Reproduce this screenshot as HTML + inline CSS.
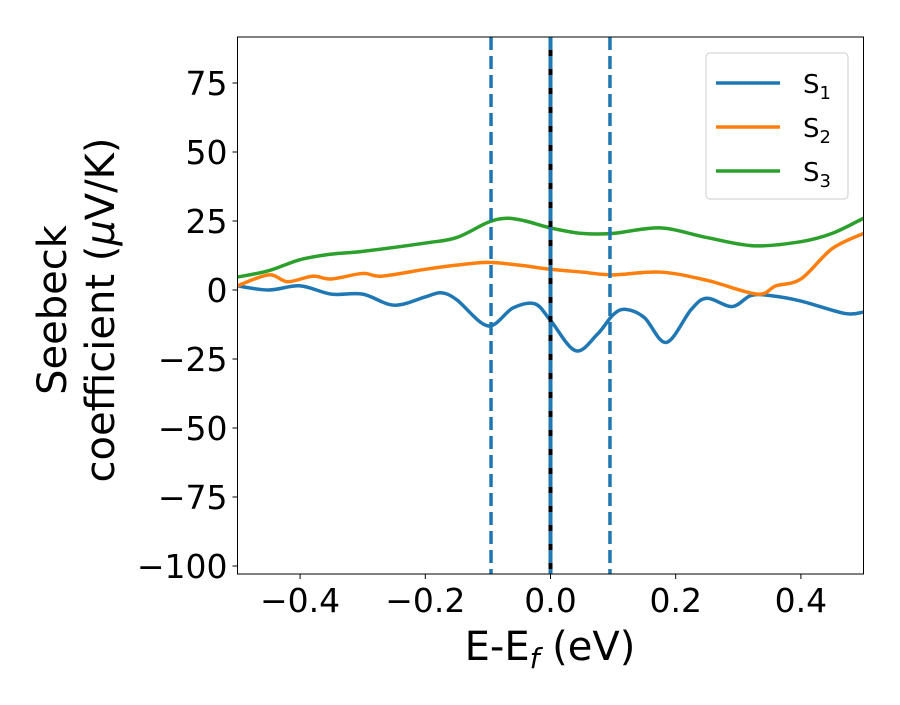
<!DOCTYPE html>
<html><head><meta charset="utf-8"><style>
body{margin:0;background:#fff}
svg text{font-family:"DejaVu Sans","Liberation Sans",sans-serif;fill:#000}
</style></head><body>
<svg id="chart" width="900" height="700"></svg>
<script>
const blueX=[-0.5,-0.45,-0.4,-0.35,-0.3,-0.25,-0.2,-0.175,-0.15,-0.1,-0.06,-0.025,0,0.04,0.075,0.1,0.12,0.15,0.185,0.225,0.25,0.29,0.32,0.35,0.4,0.47,0.5];
const blueY=[1.5,0,1.5,-1.5,-1.5,-5.5,-2.5,-1,-3.5,-13,-6.5,-5,-11,-22,-16,-9,-7,-10,-19,-7,-3,-6,-2,-2,-4,-8.5,-8];
const orangeX=[-0.5,-0.45,-0.42,-0.38,-0.35,-0.3,-0.27,-0.2,-0.15,-0.1,-0.05,0,0.05,0.1,0.175,0.25,0.33,0.36,0.4,0.45,0.5];
const orangeY=[1.5,5.5,3,5,4,6,5,7.5,9,10,9,7.5,6.5,5.5,6.5,3.5,-1.5,1.5,4,15,20.5];
const greenX=[-0.5,-0.45,-0.4,-0.35,-0.3,-0.2,-0.15,-0.1,-0.07,-0.04,0,0.05,0.1,0.175,0.25,0.325,0.4,0.45,0.5];
const greenY=[4.7,7,11,13,14,17,19,24.5,26,25,22.5,20.5,20.5,22.5,19,16,17.5,20.5,26];
const xTicks=[-0.4,-0.2,0.0,0.2,0.4];
const xTickLabels=["\u22120.4","\u22120.2","0.0","0.2","0.4"];
const yTicks=[75,50,25,0,-25,-50,-75,-100];
const yTickLabels=["75","50","25","0","\u221225","\u221250","\u221275","\u2212100"];
const vLinesDashed=[-0.095,0.095];
const vLineCenter=[0];

const L=237.5,R=863.5,T=37,B=574;
const sx=v=>L+(v+0.5)*(R-L);
const sy=v=>290-v*2.76;
const svg=document.getElementById('chart');
const NS='http://www.w3.org/2000/svg';
function mk(tag,attrs,parent){const e=document.createElementNS(NS,tag);for(const k in attrs)e.setAttribute(k,attrs[k]);(parent||svg).appendChild(e);return e;}
function path(xs,ys){const p=xs.map((x,i)=>[sx(x),sy(ys[i])]);let d='M'+p[0][0]+','+p[0][1];
for(let i=0;i<p.length-1;i++){const p0=p[Math.max(0,i-1)],p1=p[i],p2=p[i+1],p3=p[Math.min(p.length-1,i+2)];
d+=' C'+(p1[0]+(p2[0]-p0[0])/6)+','+(p1[1]+(p2[1]-p0[1])/6)+' '+(p2[0]-(p3[0]-p1[0])/6)+','+(p2[1]-(p3[1]-p1[1])/6)+' '+p2[0]+','+p2[1];}return d;}
const defs=mk('defs',{});const cp=mk('clipPath',{id:'c'},defs);mk('rect',{x:L,y:T,width:R-L,height:B-T},cp);
const g=mk('g',{'clip-path':'url(#c)'});
const series=[[blueX,blueY,'#1f77b4','s1-line'],[orangeX,orangeY,'#ff7f0e','s2-line'],[greenX,greenY,'#2ca02c','s3-line']];
series.forEach(s=>{const e=mk('path',{d:path(s[0],s[1]),fill:'none',stroke:s[2],'stroke-width':3.5},g);

});
vLinesDashed.forEach(v=>{const e=mk('line',{x1:sx(v),x2:sx(v),y1:T,y2:B,stroke:'#1f77b4','stroke-width':3.5,'stroke-dasharray':'13 6'},g);

});
vLineCenter.forEach(v=>{const e1=mk('line',{x1:sx(v),x2:sx(v),y1:T,y2:B,stroke:'#000','stroke-width':4},g);


const e2=mk('line',{x1:sx(v),x2:sx(v),y1:T,y2:B,stroke:'#1f77b4','stroke-width':4,'stroke-dasharray':'13 6'},g);

});
const fr=mk('rect',{x:L,y:T,width:R-L,height:B-T,fill:'none',stroke:'#000','stroke-width':1});


xTicks.forEach((v,i)=>{mk('line',{x1:sx(v),x2:sx(v),y1:B,y2:B+5,stroke:'#000'});
const t=mk('text',{x:sx(v),y:B+38,'text-anchor':'middle','font-size':33});t.textContent=xTickLabels[i];

});
yTicks.forEach((v,i)=>{mk('line',{x1:L-5,x2:L,y1:sy(v),y2:sy(v),stroke:'#000'});
const t=mk('text',{x:L-10,y:sy(v)+12,'text-anchor':'end','font-size':33});t.textContent=yTickLabels[i];

});
</script>
<svg width="900" height="700" style="position:absolute;left:0;top:0">
<text x="550" y="660" text-anchor="middle" font-size="40">E-E<tspan font-style="italic" font-size="28" dy="8">f</tspan><tspan dy="-8"> (eV)</tspan></text>
<g transform="translate(66,310) rotate(-90)">
<text x="0" y="0" text-anchor="middle" font-size="40">Seebeck</text>
<text x="0" y="48" text-anchor="middle" font-size="40">coefficient  (<tspan font-style="italic">μ</tspan>V/K)</text></g>
<g>
<rect x="706" y="53" width="142" height="146" rx="4" fill="#fff" stroke="#ccc"/>
<line x1="716" x2="780" y1="83" y2="83" stroke="#1f77b4" stroke-width="3.5"/>
<text x="803" y="93" font-size="26">S<tspan font-size="18" dy="6">1</tspan></text>
<line x1="716" x2="780" y1="127" y2="127" stroke="#ff7f0e" stroke-width="3.5"/>
<text x="803" y="137" font-size="26">S<tspan font-size="18" dy="6">2</tspan></text>
<line x1="716" x2="780" y1="171" y2="171" stroke="#2ca02c" stroke-width="3.5"/>
<text x="803" y="181" font-size="26">S<tspan font-size="18" dy="6">3</tspan></text>
</g></svg>
</body></html>
